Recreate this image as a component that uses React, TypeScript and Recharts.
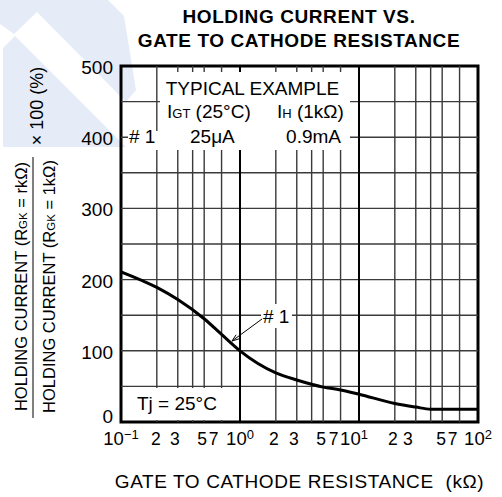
import React from "react";
import {
  ComposedChart,
  Line,
  XAxis,
  YAxis,
  ReferenceLine,
  ReferenceArea,
} from "recharts";

// curve #1 (kΩ -> %)
const resistance = [0.1, 0.2, 0.3, 0.5, 0.7, 1, 2, 3, 5, 7, 10, 20, 30, 40, 50, 100];
const holdingPct = [211, 189, 172, 145, 123, 100, 69, 59, 49, 45, 39, 26, 21, 18, 18, 18];

const xTicks = [0.1, 0.2, 0.3, 0.5, 0.7, 1, 2, 3, 5, 7, 10, 20, 30, 50, 70, 100];
const yTicks = [0, 100, 200, 300, 400, 500];
const minorX = [0.2, 0.3, 0.4, 0.5, 0.7, 2, 3, 4, 5, 7, 20, 30, 40, 50, 70];
const decadeX = [1, 10];
const gridY = [50, 100, 150, 200, 250, 300, 350, 400, 450];

const data = resistance.map((r, i) => ({ r, pct: holdingPct[i] }));

const FONT = "'Liberation Sans', Arial, Helvetica, sans-serif";

// crowded labels sit a little left of their lines in the original
const labelShift: Record<number, number> = {
  0.2: -1, 0.3: -3, 0.5: -2, 0.7: -8, 2: -2, 3: -3, 5: -2, 7: -7,
  10: -5, 20: -2, 30: -8, 50: -1, 70: -7,
};

const XTick = (props: any) => {
  const { x, y, payload } = props;
  const v = payload.value as number;
  const exp = Math.log10(v);
  const isDecade = Math.abs(exp - Math.round(exp)) < 1e-6;
  const dx = labelShift[v] ?? 0;
  if (isDecade) {
    const e = Math.round(exp);
    return (
      <text x={x + dx} y={y + 23} textAnchor="middle" fontSize={18.5} fontFamily={FONT} fill="#000">
        <tspan>10</tspan>
        <tspan dy={-6} fontSize={13}>{e < 0 ? "\u2212" + Math.abs(e) : String(e)}</tspan>
      </text>
    );
  }
  return (
    <text x={x + dx} y={y + 23} textAnchor="middle" fontSize={17.5} fontFamily={FONT} fill="#000">
      {String(Math.round(v / Math.pow(10, Math.floor(exp))))}
    </text>
  );
};

const YTick = (props: any) => {
  const { x, y, payload } = props;
  // the zero sits raised above the 10^-1 label
  const dy = payload.value === 0 ? 1 : 8;
  return (
    <text x={x} y={y + dy} textAnchor="end" fontSize={19} fontFamily={FONT} fill="#000">
      {payload.value}
    </text>
  );
};

export default function App() {
  return (
    <div style={{ position: "absolute", left: 0, top: 0, width: 502, height: 497, background: "#fff" }}>
      {/* faint watermark behind the chart */}
      <svg width={502} height={497} style={{ position: "absolute", left: 0, top: 0 }}>
        <polygon points="0,0 108,0 124,16 136,90 126,102 37,12 14,34 0,24" fill="#e5ecf7" />
        <polygon points="3,48 15,36 126,147 3,147" fill="#e5ecf7" />
      </svg>

      <div style={{ position: "absolute", left: 0, top: 0 }}>
        <ComposedChart
          width={502}
          height={497}
          data={data}
          margin={{ top: 66, right: 24, bottom: 0, left: 0 }}
        >
          <XAxis
            dataKey="r"
            type="number"
            scale="log"
            domain={[0.1, 100]}
            allowDataOverflow
            ticks={xTicks}
            interval={0}
            tickLine={false}
            axisLine={false}
            tickSize={0}
            tickMargin={0}
            height={75}
            tick={<XTick />}
          />
          <YAxis
            type="number"
            domain={[0, 500]}
            ticks={yTicks}
            interval={0}
            tickLine={false}
            axisLine={false}
            tickSize={0}
            tickMargin={8}
            width={121}
            tick={<YTick />}
          />
          {gridY.map((v) => (
            <ReferenceLine key={"h" + v} y={v} stroke="#3a3a3a" strokeWidth={1.4} />
          ))}
          {minorX.map((v) => (
            <ReferenceLine key={"m" + v} x={v} stroke="#3a3a3a" strokeWidth={1.4} />
          ))}
          {decadeX.map((v) => (
            <ReferenceLine key={"d" + v} x={v} stroke="#000" strokeWidth={2} />
          ))}
          <ReferenceArea
            x1={0.1}
            x2={100}
            y1={0}
            y2={500}
            fill="none"
            fillOpacity={0}
            stroke="#000"
            strokeWidth={3}
          />
          <Line
            dataKey="pct"
            type="monotone"
            stroke="#000"
            strokeWidth={3}
            dot={false}
            isAnimationActive={false}
          />
        </ComposedChart>
      </div>

      {/* titles, labels and annotations */}
      <svg
        width={502}
        height={497}
        style={{ position: "absolute", left: 0, top: 0, pointerEvents: "none" }}
        fontFamily={FONT}
      >
        <text x={299} y={23} textAnchor="middle" fontSize={19} fontWeight="bold" letterSpacing={0.6}>
          HOLDING CURRENT VS.
        </text>
        <text x={299} y={47} textAnchor="middle" fontSize={19} fontWeight="bold" letterSpacing={0.6}>
          GATE TO CATHODE RESISTANCE
        </text>

        <text x={299.5} y={488} textAnchor="middle" fontSize={19} letterSpacing={0.6} xmlSpace="preserve">
          GATE TO CATHODE RESISTANCE  (k{"\u03A9"})
        </text>

        {/* y axis fraction label */}
        <text x={27} y={286.5} transform="rotate(-90 27 286.5)" textAnchor="middle" fontSize={16.5}>
          HOLDING CURRENT (R<tspan fontSize={11.5}>GK</tspan> = rk{"\u03A9"})
        </text>
        <line x1={33} y1={157} x2={33} y2={418} stroke="#000" strokeWidth={1} />
        <text x={55} y={286.5} transform="rotate(-90 55 286.5)" textAnchor="middle" fontSize={16.5}>
          HOLDING CURRENT (R<tspan fontSize={11.5}>GK</tspan> = 1k{"\u03A9"})
        </text>
        <text x={43} y={106} transform="rotate(-90 43 106)" textAnchor="middle" fontSize={18}>
          {"\u00D7"} 100 (%)
        </text>

        {/* typical example box */}
        <rect x={160} y={72} width={190} height={78} fill="#fff" />
        <rect x={128} y={131} width={215} height={19} fill="#fff" />
        <text x={252.5} y={95} textAnchor="middle" fontSize={19}>TYPICAL EXAMPLE</text>
        <text x={167} y={118} fontSize={19}>
          I<tspan fontSize={13}>GT</tspan> (25°C)
        </text>
        <text x={277} y={118} fontSize={19}>
          I<tspan fontSize={13}>H</tspan> (1k{"\u03A9"})
        </text>
        <text x={129} y={143} fontSize={19}># 1</text>
        <text x={190} y={143} fontSize={19}>25μA</text>
        <text x={341} y={143} textAnchor="end" fontSize={19}>0.9mA</text>

        {/* Tj box */}
        <rect x={123} y={388} width={114} height={32} fill="#fff" />
        <text x={137} y={410} fontSize={19}>Tj = 25°C</text>

        {/* #1 pointer */}
        <rect x={261} y={304} width={31} height={24} fill="#fff" />
        <text x={263} y={323} fontSize={19}># 1</text>
        <line x1={262} y1={319} x2={232} y2={341} stroke="#000" strokeWidth={1} />
        <polyline points="239.1,338.8 232,341 236.1,334.8" fill="none" stroke="#000" strokeWidth={1} />
      </svg>
    </div>
  );
}
